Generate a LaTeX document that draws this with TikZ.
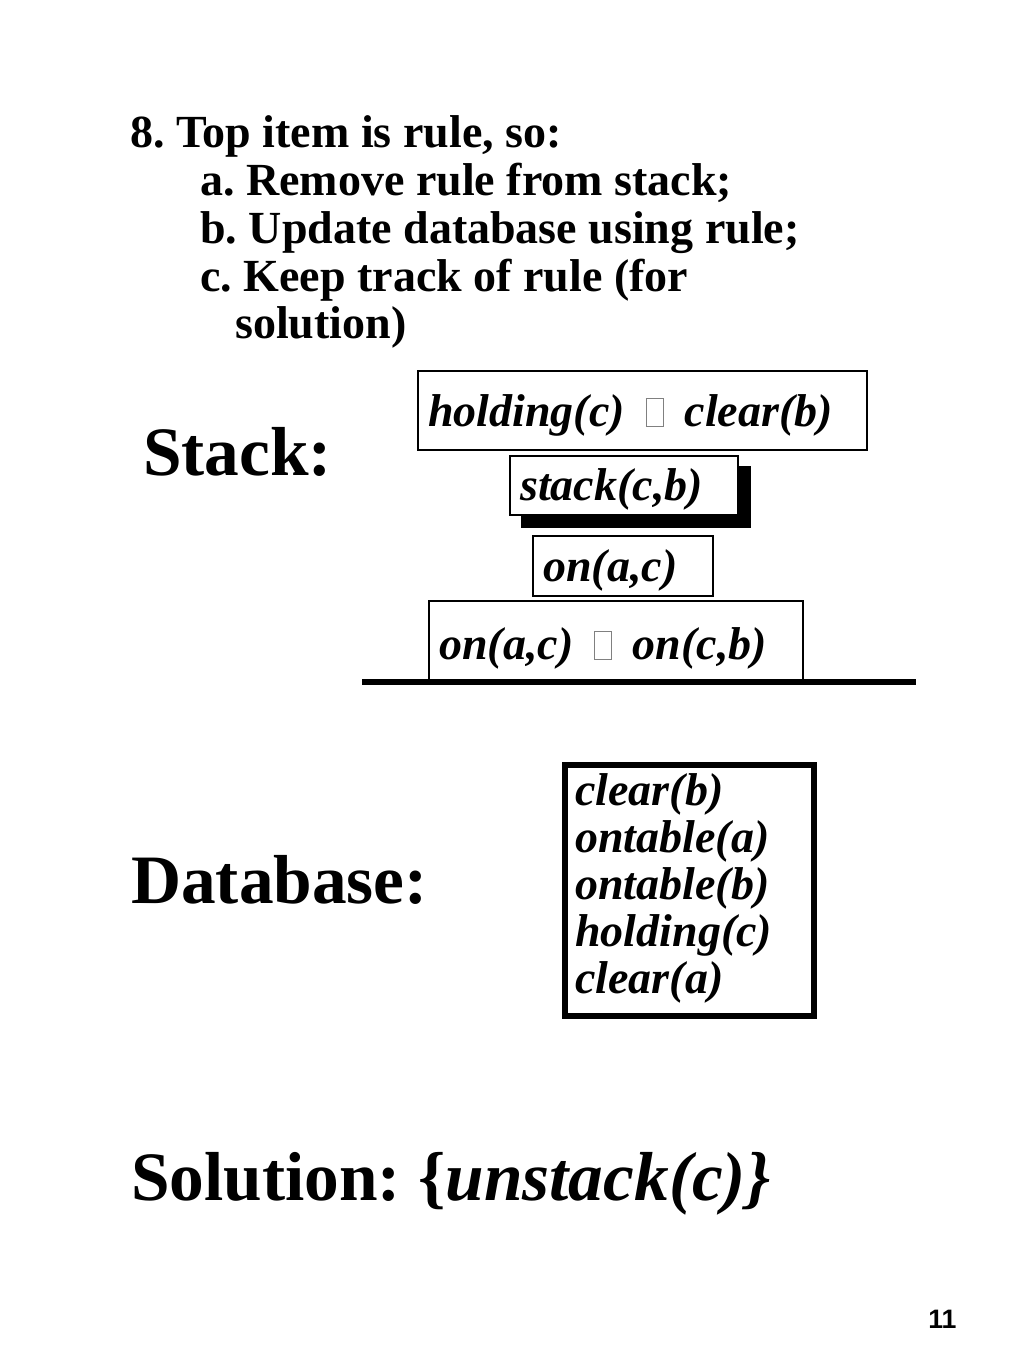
\documentclass[tikz,border=0pt]{standalone}
\usepackage{fontspec}
\setmainfont{Liberation Serif}
\setsansfont{Liberation Sans}
\frenchspacing
\newcommand{\tofu}{\hspace{0.45em}{\color{gray}\fboxsep=0pt\fboxrule=0.6pt\fbox{\rule{0pt}{0.6em}\hspace{0.36em}}}\hspace{0.45em}}

\begin{document}
\begin{tikzpicture}[x=0.75pt,y=-0.75pt,
  textline/.style={anchor=base west,inner sep=0pt,font=\fontsize{34.5}{36}\selectfont\bfseries},
  heading/.style={anchor=base west,inner sep=0pt,font=\fontsize{52}{56}\selectfont\bfseries},
  goal/.style={anchor=base west,inner sep=0pt,font=\fontsize{34.5}{36}\selectfont\bfseries\itshape},
  boxline/.style={draw=black,line width=1pt}]
\useasboundingbox (0,0) rectangle (1024,1364);

\node[textline] at (130,147) (s8) {8. Top item is rule, so:};
\node[textline] at (200,195) (sa) {a. Remove rule from stack;};
\node[textline] at (200,243) (sb) {b. Update database using rule;};
\node[textline] at (200,291) (sc) {c. Keep track of rule (for};
\node[textline] at (235,338) (sc2) {solution)};

\node[heading] at (143,475) (stack) {Stack:};
\node[heading] at (131,903) (database) {Database:};
\node[heading] at (131,1200) (solution) {Solution: \{\textit{unstack(c)\}}};

\draw[boxline] (418,371) rectangle (867,450);
\fill[black] (521,466) rectangle (751,528);
\draw[boxline,fill=white] (510,456) rectangle (738,515);
\draw[boxline] (533,536) rectangle (713,596);
\draw[boxline] (429,680) |- (803,601) -- (803,680);
\draw[line width=4.5pt] (362,682) -- (916,682);

\node[goal] at (428,426) (g1) {holding(c)\tofu clear(b)};
\node[goal] at (520,500) (g2) {stack(c,b)};
\node[goal] at (543,581) (g3) {on(a,c)};
\node[goal] at (439,659) (g4) {on(a,c)\tofu on(c,b)};

\draw[line width=4.5pt] (565,765) rectangle (814,1016);
\node[goal] at (575,805) (d1) {clear(b)};
\node[goal] at (575,852) (d2) {ontable(a)};
\node[goal] at (575,899) (d3) {ontable(b)};
\node[goal] at (575,946) (d4) {holding(c)};
\node[goal] at (575,993) (d5) {clear(a)};

\node[anchor=base west,inner sep=0pt,font=\sffamily\bfseries\fontsize{20}{22}\selectfont] at (928,1328) (page) {11};
\end{tikzpicture}
\end{document}
